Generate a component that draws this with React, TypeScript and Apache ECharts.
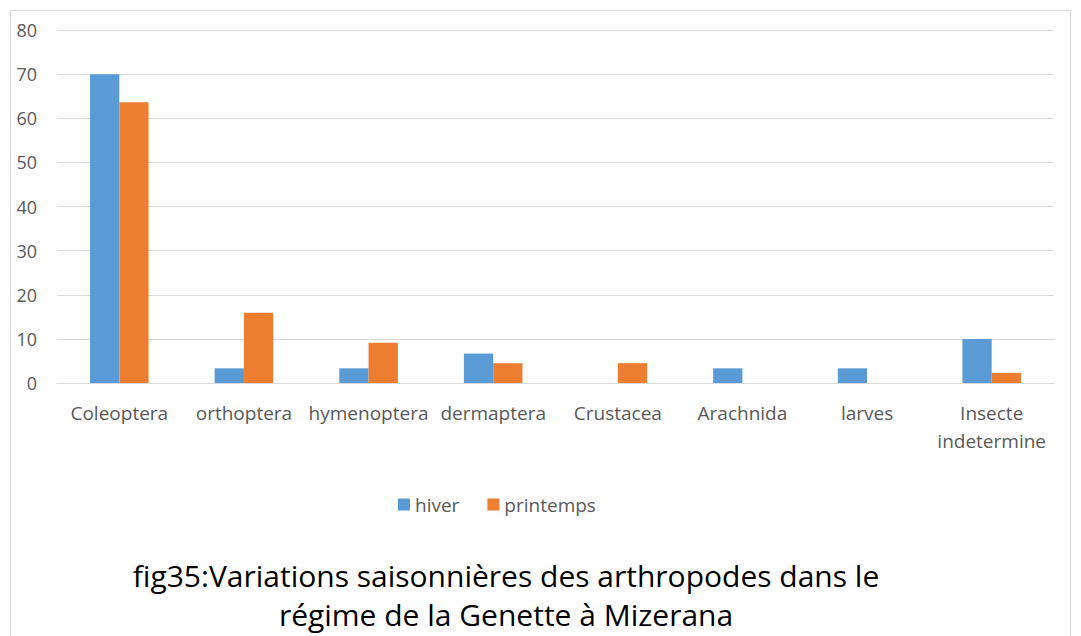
import React, { useEffect, useRef } from "react";
import * as echarts from "echarts";

const categories = [
  "Coleoptera",
  "orthoptera",
  "hymenoptera",
  "dermaptera",
  "Crustacea",
  "Arachnida",
  "larves",
  "Insecte\nindetermine",
];
const hiver = [70, 3.33, 3.33, 6.67, 0, 3.33, 3.33, 10];
const printemps = [63.6, 15.9, 9.1, 4.5, 4.5, 0, 0, 2.3];
const seriesNames = ["hiver", "printemps"];
const titleText =
  "fig35:Variations saisonnières des arthropodes dans le\nrégime de la Genette à Mizerana";

const FONT = "'Open Sans', Lato, sans-serif";

export default function App() {
  const ref = useRef<HTMLDivElement>(null);
  useEffect(() => {
    if (!ref.current) return;
    const chart = echarts.init(ref.current, undefined, { renderer: "svg" });
    chart.setOption({
      animation: false,
      backgroundColor: "#ffffff",
      textStyle: { fontFamily: FONT },
      graphic: [
        {
          type: "rect",
          shape: { x: 10.5, y: 10.5, width: 1060, height: 640 },
          style: { fill: "none", stroke: "#d9d9d9", lineWidth: 1 },
          silent: true,
        },
      ],
      title: {
        text: titleText,
        left: 501,
        top: 551,
        textAlign: "center",
        textStyle: {
          fontFamily: FONT,
          fontSize: 30,
          fontWeight: "normal",
          color: "#000000",
          lineHeight: 39,
        },
      },
      legend: {
        data: seriesNames,
        left: 393,
        top: 490,
        itemWidth: 12,
        itemHeight: 12,
        itemGap: 28,
        icon: "rect",
        textStyle: { fontFamily: FONT, fontSize: 19, color: "#595959" },
      },
      grid: { left: 57, right: 27, top: 30, bottom: 253, containLabel: false },
      xAxis: {
        type: "category",
        data: categories,
        axisLine: { lineStyle: { color: "#d9d9d9", width: 1 } },
        axisTick: { show: false },
        axisLabel: {
          interval: 0,
          margin: 16,
          fontFamily: FONT,
          fontSize: 19,
          color: "#595959",
          lineHeight: 28,
        },
      },
      yAxis: {
        type: "value",
        min: 0,
        max: 80,
        interval: 10,
        axisLine: { show: false },
        axisTick: { show: false },
        splitLine: { lineStyle: { color: "#d9d9d9", width: 1 } },
        axisLabel: {
          margin: 20,
          fontFamily: FONT,
          fontSize: 18,
          color: "#595959",
        },
      },
      series: [
        {
          name: seriesNames[0],
          type: "bar",
          data: hiver,
          itemStyle: { color: "#5b9bd5" },
          barGap: "0%",
          barCategoryGap: "53%",
        },
        {
          name: seriesNames[1],
          type: "bar",
          data: printemps,
          itemStyle: { color: "#ed7d31" },
          barGap: "0%",
          barCategoryGap: "53%",
        },
      ],
    });
    return () => chart.dispose();
  }, []);
  return (
    <div
      ref={ref}
      style={{ position: "fixed", left: 0, top: 0, width: 1081, height: 636 }}
    />
  );
}
